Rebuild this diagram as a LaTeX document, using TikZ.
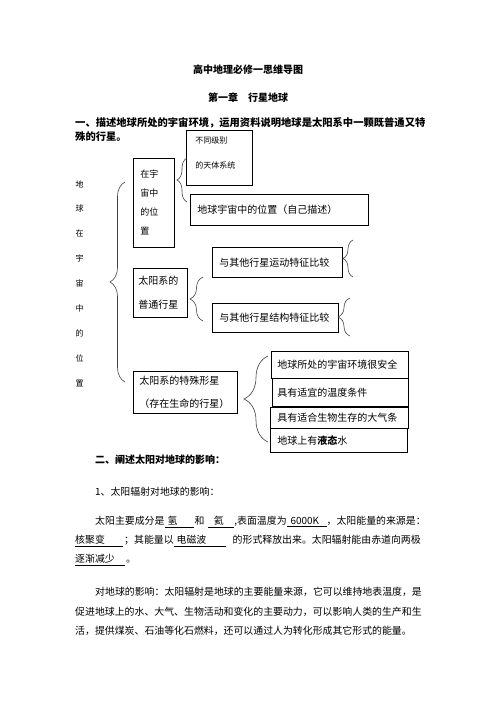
\documentclass[tikz,border=0pt]{standalone}
\usepackage{fontspec}
\setmainfont{Noto Sans CJK SC}
\usepackage{xcolor}
\usepackage{tikz}
\usetikzlibrary{decorations.pathreplacing}

% a blank of given width, underlined
\newcommand\blank[2]{\underline{\makebox[#1][l]{#2}}}

\begin{document}
\begin{tikzpicture}[x=1pt, y=-1pt,
    box/.style={draw, line width=.6pt, anchor=north west, align=left, inner ysep=0pt,
      font=\fontsize{10}{12}\selectfont},
    txt/.style={anchor=west, inner sep=0pt, font=\fontsize{9.9}{12}\selectfont},
    head/.style={anchor=west, inner sep=0pt, align=left, font=\bfseries\fontsize{10}{12}\selectfont},
    curly/.style={draw=black!75, line width=.6pt, decorate, decoration={brace, amplitude=#1}}]
    \useasboundingbox (0,0) rectangle (496,702);

    % Here is the title
    \node[font=\bfseries\fontsize{10}{12}\selectfont] (title) at (248,70) {高中地理必修一思维导图};
    \node[font=\bfseries\fontsize{10}{12}\selectfont] (chap) at (248,98) {第一章\hspace{10pt}行星地球};
    \node[head, font=\bfseries\fontsize{10.3}{13.5}\selectfont] (sec1) at (75,129.5)
      {一、描述地球所处的宇宙环境，运用资料说明地球是太阳系中一颗既普通又特\\殊的行星。};

    % the word column on the left
    \node[align=center, inner sep=0pt, font=\fontsize{8}{24.9}\selectfont] (earth) at (79.5,283.5)
      {地\\球\\在\\宇\\宙\\中\\的\\位\\置};

    % the boxes
    \node[box, inner xsep=9pt, text width=48pt, minimum height=55pt, font=\fontsize{8}{25}\selectfont] (sys) at (186,130)
      {不同级别\\的天体系统\rule[-10pt]{0pt}{0pt}};
    \node[box, inner xsep=7pt, text width=27pt, minimum height=89pt, font=\fontsize{9}{19}\selectfont] (pos) at (133,158)
      {在宇\\宙中\\的位\\置};
    \node[box, inner xsep=7pt, text width=164pt, minimum height=31pt] (place) at (190,194) {地球宇宙中的位置（自己描述）};
    \node[box, inner xsep=5pt, text width=44pt, minimum height=49pt, font=\fontsize{10}{24}\selectfont] (ord) at (133,268)
      {太阳系的\\普通行星};
    \node[box, inner xsep=7pt, text width=116pt, minimum height=30pt] (motion) at (212,247) {与其他行星运动特征比较};
    \node[box, inner xsep=7pt, text width=112pt, minimum height=29pt] (struct) at (212,303) {与其他行星结构特征比较};
    \node[box, inner xsep=6pt, text width=92pt, minimum height=42pt, font=\fontsize{10}{23}\selectfont] (spec) at (133,371)
      {太阳系的特殊形星\\（存在生命的行星）};
    \node[box, inner xsep=6pt, text width=125pt, minimum height=27pt] (safe) at (271,351) {地球所处的宇宙环境很安全};
    \node[box, inner xsep=5pt, text width=126pt, minimum height=28pt] (temp) at (272,378) {具有适宜的温度条件};
    \node[box, inner xsep=7pt, text width=124pt, minimum height=21pt] (air) at (270,407) {具有适合生物生存的大气条};
    \node[box, inner xsep=7pt, text width=123pt, minimum height=24pt] (water) at (270,428) {地球上有\textbf{液态}水};

    % Here are the braces
    \coordinate (b0lo) at (125,382); \coordinate (b0hi) at (125,182);
    \coordinate (b1lo) at (187,202); \coordinate (b1hi) at (187,158);
    \coordinate (b2lo) at (203,321); \coordinate (b2hi) at (203,277);
    \coordinate (b3lo) at (353,277); \coordinate (b3hi) at (353,240);
    \coordinate (b4lo) at (350,336); \coordinate (b4hi) at (350,298);
    \coordinate (b5lo) at (268,442); \coordinate (b5hi) at (268,356);
    \draw[curly=15pt] (b0lo) -- (b0hi);
    \draw[curly=10pt] (b1lo) -- (b1hi);
    \draw[curly=13pt] (b2lo) -- (b2hi);
    \draw[curly=10pt] (b3lo) -- (b3hi);
    \draw[curly=12pt] (b4lo) -- (b4hi);
    \draw[curly=24pt] (b5lo) -- (b5hi);

    % second part, plain text
    \node[head] (sec2) at (95,460) {二、阐述太阳对地球的影响：};
    \node[txt] (sub1) at (95,492) {1、太阳辐射对地球的影响：};
    \node[txt] (par1a) at (95,522)
      {太阳主要成分是\blank{29pt}{\hspace{3pt}氢}\hspace{1pt}和\hspace{4pt}\blank{26pt}{\hfil 氦\hfil},表面温度为\blank{40pt}{\hspace{4pt}6000K}，太阳能量的来源是：};
    \node[txt] (par1b) at (75,541)
      {\blank{48pt}{核聚变}\hspace{1pt}；其能量以\blank{52pt}{\hspace{3pt}电磁波}\hspace{7pt}的形式释放出来。太阳辐射能由赤道向两极};
    \node[txt] (par1c) at (75,560) {\blank{50pt}{逐渐减少}\hspace{1pt}。};
    \node[txt] (par2a) at (95,592) {对地球的影响：太阳辐射是地球的主要能量来源，它可以维持地表温度，是};
    \node[txt] (par2b) at (75,612) {促进地球上的水、大气、生物活动和变化的主要动力，可以影响人类的生产和生};
    \node[txt] (par2c) at (75,631) {活，提供煤炭、石油等化石燃料，还可以通过人为转化形成其它形式的能量。};
\end{tikzpicture}
\end{document}
